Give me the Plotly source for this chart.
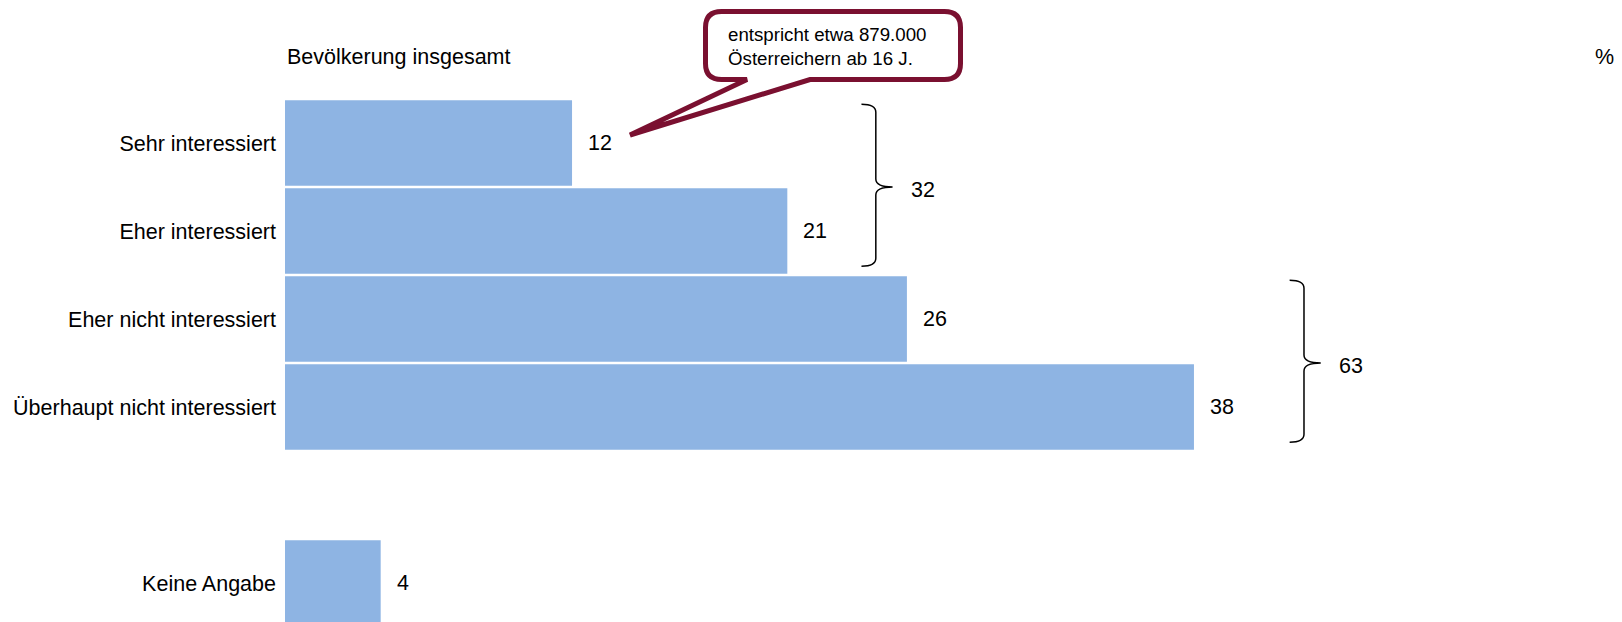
import plotly.graph_objects as go

# ---- data ----
categories = ["Sehr interessiert", "Eher interessiert", "Eher nicht interessiert",
              "Überhaupt nicht interessiert", "Keine Angabe"]
values = [12, 21, 26, 38, 4]
slots = [0, 1, 2, 3, 5]          # Keine Angabe separated by an empty row
group_rows = [(0, 1), (2, 3)]
group_totals = [32, 63]
header_text = "Bevölkerung insgesamt"
unit_text = "%"
callout_text = "entspricht etwa 879.000<br>Österreichern ab 16 J."

# ---- layout constants ----
OFF = 8            # page body margin
W, H = 1622 - OFF, 622 - OFF
ML = 285 - OFF
K = 23.92          # px per percent
ROW = 88.0         # px per row
Y0 = 143.0 - OFF   # px centre of first row (figure coords)
XMAX = (W - ML) / K
YTOP = -Y0 / ROW
YBOT = (H - Y0) / ROW
FONT = "Liberation Sans, Arial, sans-serif"
FS = 21.5
BAR = "#8EB4E3"
MAROON = "#7A1030"

def X(px):   # screen px -> data x
    return (px - OFF - ML) / K

def Y(py):   # screen px -> data y
    return (py - OFF - Y0) / ROW

fig = go.Figure()
fig.add_trace(go.Bar(
    x=values, y=slots, orientation="h", width=0.972,
    marker=dict(color=BAR, line=dict(width=0)),
    hoverinfo="skip",
))

annotations = []
shapes = []

# value labels
for v, s in zip(values, slots):
    annotations.append(dict(x=v, y=s, xref="x", yref="y", text=str(v),
                            xanchor="left", yanchor="middle", xshift=14, showarrow=False,
                            font=dict(size=FS, color="black", family=FONT)))

# brackets
for (r0, r1), tot in zip(group_rows, group_totals):
    xb = max(values[r0], values[r1]) + (3.7 if r0 == 0 else 4.6)
    top = slots[r0] - 0.44
    bot = slots[r1] + 0.40
    mid = (slots[r0] + slots[r1]) / 2
    hook = 0.6
    tip = 0.7
    r = 0.09
    path = (f"M {xb-hook},{top} Q {xb},{top} {xb},{top+r} L {xb},{mid-r} "
            f"Q {xb},{mid} {xb+tip},{mid} Q {xb},{mid} {xb},{mid+r} "
            f"L {xb},{bot-r} Q {xb},{bot} {xb-hook},{bot}")
    shapes.append(dict(type="path", path=path, xref="x", yref="y",
                       line=dict(color="black", width=1.5)))
    annotations.append(dict(x=xb, y=mid, xref="x", yref="y", text=str(tot),
                            xanchor="left", yanchor="middle", xshift=33, yshift=-3,
                            showarrow=False,
                            font=dict(size=FS, color="black", family=FONT)))

# callout balloon (pixel geometry converted to data units)
L_, R_, T_, B_ = 705.5, 960.5, 11.5, 79.5
rad = 16
tipx, tipy = 630, 135
pl, pr = 747, 810
pts = (f"M {X(L_+rad)},{Y(T_)} L {X(R_-rad)},{Y(T_)} Q {X(R_)},{Y(T_)} {X(R_)},{Y(T_+rad)} "
       f"L {X(R_)},{Y(B_-rad)} Q {X(R_)},{Y(B_)} {X(R_-rad)},{Y(B_)} "
       f"L {X(pr)},{Y(B_)} L {X(tipx)},{Y(tipy)} L {X(pl)},{Y(B_)} "
       f"L {X(L_+rad)},{Y(B_)} Q {X(L_)},{Y(B_)} {X(L_)},{Y(B_-rad)} "
       f"L {X(L_)},{Y(T_+rad)} Q {X(L_)},{Y(T_)} {X(L_+rad)},{Y(T_)} Z")
shapes.append(dict(type="path", path=pts, xref="x", yref="y",
                   fillcolor="white", line=dict(color=MAROON, width=5), layer="above"))
annotations.append(dict(x=X(726), y=Y(46), xref="x", yref="y", text=callout_text,
                        xanchor="left", yanchor="middle", align="left", showarrow=False,
                        font=dict(size=18.7, color="black", family=FONT)))

# header and unit
annotations.append(dict(x=0, y=Y(57), xref="x", yref="y", text=header_text,
                        xanchor="left", yanchor="middle", showarrow=False,
                        font=dict(size=FS, color="black", family=FONT)))
annotations.append(dict(x=1, y=Y(57), xref="paper", yref="y", text=unit_text,
                        xanchor="right", yanchor="middle", xshift=-6, showarrow=False,
                        font=dict(size=FS, color="black", family=FONT)))

fig.update_layout(
    width=W, height=H,
    margin=dict(l=ML, r=0, t=0, b=0),
    paper_bgcolor="white", plot_bgcolor="white",
    showlegend=False,
    xaxis=dict(range=[0, XMAX], visible=False, showgrid=False, zeroline=False),
    yaxis=dict(range=[YBOT, YTOP], tickmode="array", tickvals=slots, ticktext=categories,
               showgrid=False, zeroline=False, showline=False, ticks="",
               ticklabelstandoff=8,
               tickfont=dict(size=FS, color="black", family=FONT)),
    annotations=annotations, shapes=shapes,
)

fig.write_html("out.html")
